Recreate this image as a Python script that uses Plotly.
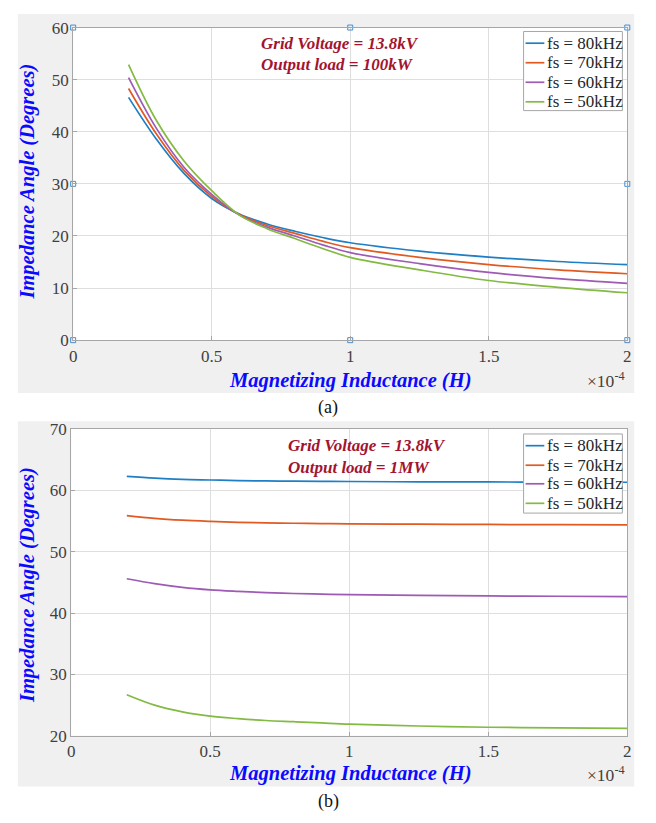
import plotly.graph_objects as go

W, H = 656, 823

# ---------------- data ----------------
# Magnetizing inductance (H)
Lm = [0.2e-4, 0.3e-4, 0.4e-4, 0.5e-4, 0.6e-4, 0.7e-4, 0.8e-4, 0.9e-4, 1.0e-4,
      1.25e-4, 1.5e-4, 1.75e-4, 2.0e-4]
series_names = ["fs = 80kHz", "fs = 70kHz", "fs = 60kHz", "fs = 50kHz"]

# (a) Output load = 100 kW
a_80 = [46.6, 38.6, 32.0, 27.2, 24.2, 22.3, 20.9, 19.7, 18.7, 17.1, 15.95, 15.1, 14.5]
a_70 = [48.3, 39.6, 32.6, 27.6, 24.1, 22.0, 20.5, 19.0, 17.75, 15.9, 14.5, 13.5, 12.75]
a_60 = [50.4, 40.7, 33.2, 28.0, 24.0, 21.7, 20.0, 18.3, 16.8, 14.7, 13.0, 11.8, 10.9]
a_50 = [52.9, 42.2, 34.4, 28.7, 24.0, 21.4, 19.5, 17.6, 15.9, 13.5, 11.45, 10.15, 9.1]

# (b) Output load = 1 MW
b_80 = [62.3, 62.0, 61.8, 61.7, 61.6, 61.55, 61.5, 61.47, 61.45, 61.4, 61.38, 61.35, 61.33]
b_70 = [55.9, 55.45, 55.15, 54.95, 54.8, 54.7, 54.65, 54.6, 54.55, 54.5, 54.45, 54.42, 54.4]
b_60 = [45.6, 44.8, 44.2, 43.8, 43.55, 43.35, 43.2, 43.1, 43.0, 42.9, 42.8, 42.75, 42.7]
b_50 = [26.7, 25.0, 23.9, 23.2, 22.8, 22.5, 22.3, 22.1, 21.9, 21.6, 21.4, 21.3, 21.2]

x_tickvals = [0, 0.5e-4, 1.0e-4, 1.5e-4, 2.0e-4]
x_ticktext = ["0", "0.5", "1", "1.5", "2"]
ya_ticks = [0, 10, 20, 30, 40, 50, 60]
yb_ticks = [20, 30, 40, 50, 60, 70]

# selection handles visible in panel (a)
handle_x = [0, 1e-4, 2e-4, 0, 2e-4, 0, 1e-4, 2e-4]
handle_y = [60, 60, 60, 30, 30, 0, 0, 0]

colors = ["#1f7fc4", "#e05a22", "#9e5ab4", "#82ba42"]

# ---------------- helpers ----------------
def px(x):
    return x / W

def py(y):
    return 1 - y / H

SERIF = "Times New Roman, Liberation Serif, DejaVu Serif, serif"

fig = go.Figure()

for name, col, ya, yb in zip(series_names, colors,
                             [a_80, a_70, a_60, a_50],
                             [b_80, b_70, b_60, b_50]):
    fig.add_trace(go.Scatter(x=Lm, y=ya, mode="lines", name=name, showlegend=False,
                             line=dict(color=col, width=1.7, shape="spline", smoothing=1.0),
                             xaxis="x", yaxis="y"))
    fig.add_trace(go.Scatter(x=Lm, y=yb, mode="lines", name=name, showlegend=False,
                             line=dict(color=col, width=1.7, shape="spline", smoothing=1.0),
                             xaxis="x2", yaxis="y2"))

fig.add_trace(go.Scatter(x=handle_x, y=handle_y, mode="markers", showlegend=False,
                         marker=dict(symbol="square-open", size=5, color="#4a8ccc",
                                     line=dict(width=1)),
                         cliponaxis=False, xaxis="x", yaxis="y", hoverinfo="skip"))

axis_common = dict(showline=True, linecolor="#a6a6a6", linewidth=1, mirror=True,
                   showgrid=True, gridcolor="#dedede", gridwidth=1,
                   ticks="inside", ticklen=4, tickcolor="#a6a6a6",
                   tickfont=dict(family=SERIF, size=17, color="#404040"),
                   zeroline=False)

top_dom_y = [py(339), py(19)]
bot_dom_y = [py(744), py(430)]

fig.update_layout(
    width=W, height=H,
    margin=dict(l=0, r=0, t=0, b=0),
    paper_bgcolor="white", plot_bgcolor="white",
    xaxis=dict(domain=[px(70), px(631)], range=[0, 2e-4], tickvals=x_tickvals,
               ticktext=x_ticktext, anchor="y", **axis_common),
    yaxis=dict(domain=top_dom_y, range=[0, 60], tickvals=ya_ticks, anchor="x",
               **axis_common),
    xaxis2=dict(domain=[px(68), px(631)], range=[0, 2e-4], tickvals=x_tickvals,
                ticktext=x_ticktext, anchor="y2", **axis_common),
    yaxis2=dict(domain=bot_dom_y, range=[20, 70], tickvals=yb_ticks, anchor="x2",
                **axis_common),
    showlegend=False,
)

# grey figure panels, then white plot areas
for (x0, y0, x1, y1) in [(14, 5, 638, 393), (14, 422, 638, 796)]:
    fig.add_shape(type="rect", xref="paper", yref="paper",
                  x0=px(x0), x1=px(x1), y0=py(y1), y1=py(y0),
                  fillcolor="#f0f0f0", line=dict(width=0), layer="below")
for (x0, y0, x1, y1) in [(70, 19, 631, 339), (68, 430, 631, 744)]:
    fig.add_shape(type="rect", xref="paper", yref="paper",
                  x0=px(x0), x1=px(x1), y0=py(y1), y1=py(y0),
                  fillcolor="white", line=dict(width=0), layer="below")

def ann(text, x, y, size, color, xanchor="center", yanchor="middle", angle=0):
    fig.add_annotation(text=text, x=px(x), y=py(y), xref="paper", yref="paper",
                       showarrow=False, xanchor=xanchor, yanchor=yanchor,
                       textangle=angle,
                       font=dict(family=SERIF, size=size, color=color))

# legends (box, short line samples, labels)
for box_top, rows in [(23, [35, 55, 75, 95]), (435, [447, 467, 486, 506])]:
    fig.add_shape(type="rect", xref="paper", yref="paper",
                  x0=px(526), x1=px(626), y0=py(box_top + 81), y1=py(box_top),
                  fillcolor="white", line=dict(color="#a6a6a6", width=1), layer="above")
    for name, col, ry in zip(series_names, colors, rows):
        fig.add_shape(type="line", xref="paper", yref="paper",
                      x0=px(528), x1=px(547), y0=py(ry), y1=py(ry),
                      line=dict(color=col, width=1.7), layer="above")
        ann(name, 548, ry, 17, "#262626", xanchor="left")

blue = "#0a0aff"
red = "#a2142f"
# axis titles
ann("<b><i>Magnetizing Inductance (H)</i></b>", 350, 380, 20.5, blue)
ann("<b><i>Impedance Angle (Degrees)</i></b>", 24, 177, 20.5, blue, angle=-90)
ann("<b><i>Magnetizing Inductance (H)</i></b>", 350, 783, 20.5, blue)
ann("<b><i>Impedance Angle (Degrees)</i></b>", 24, 590, 20.5, blue, angle=-90)

# x10^-4 multipliers
ann("×10<sup>-4</sup>", 631, 380, 17.5, "#404040", xanchor="right")
ann("×10<sup>-4</sup>", 631, 783, 17.5, "#404040", xanchor="right")

# in-plot notes
ann("<b><i>Grid Voltage = 13.8kV</i></b>", 258, 35, 17, red, xanchor="left")
ann("<b><i>Output load = 100kW</i></b>", 258, 57, 17, red, xanchor="left")
ann("<b><i>Grid Voltage = 13.8kV</i></b>", 285, 447, 17, red, xanchor="left")
ann("<b><i>Output load = 1MW</i></b>", 285, 469, 17, red, xanchor="left")

# captions
ann("(a)", 328, 408, 18, "#111111")
ann("(b)", 328, 811, 18, "#111111")

fig.write_html("out.html")
